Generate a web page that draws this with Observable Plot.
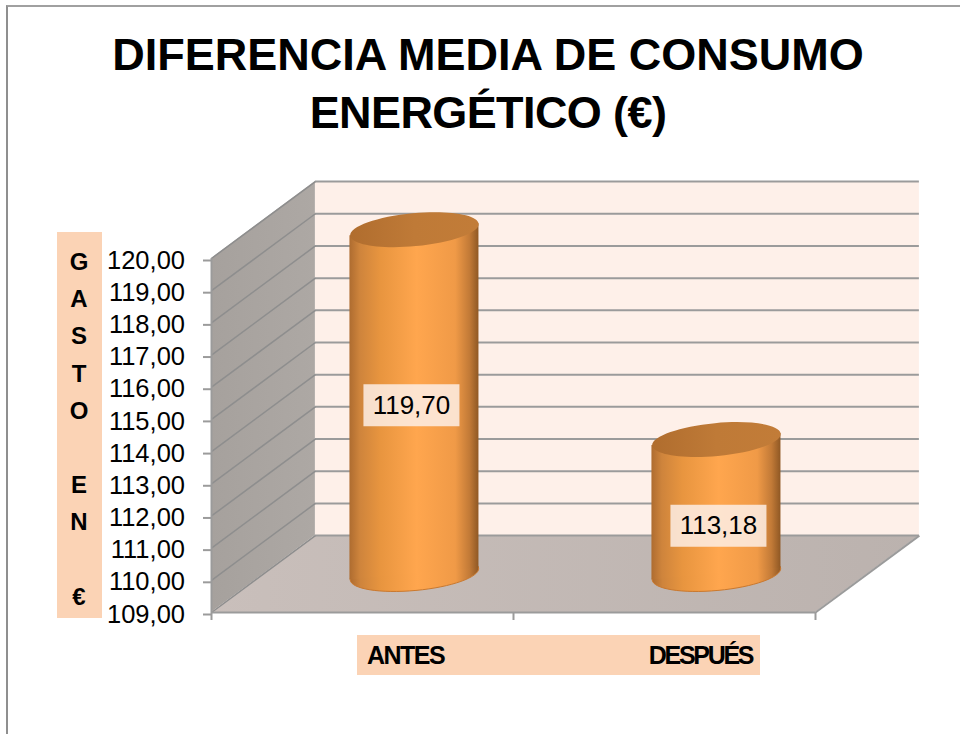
<!DOCTYPE html>
<html><head><meta charset="utf-8">
<script src="https://cdn.jsdelivr.net/npm/d3@7"></script>
<script src="https://cdn.jsdelivr.net/npm/@observablehq/plot@0.6"></script>
<style>
html,body{margin:0;padding:0;background:#fff;}
#root{position:relative;width:960px;height:734px;overflow:hidden;font-family:"Liberation Sans",Arial,sans-serif;}
#frame{position:absolute;left:6px;top:5px;width:960px;height:740px;border-left:2px solid #8f8f8f;border-top:2px solid #a0a0a0;}
#title{position:absolute;left:0;top:26px;width:976px;text-align:center;font-weight:bold;font-size:45px;line-height:58px;color:#000;}
#title span{display:block;}
#title span:last-child{letter-spacing:-0.6px;}
#ytitle{position:absolute;left:57px;top:232px;width:44px;height:386px;background:#FBD3B5;text-align:center;font-weight:bold;font-size:24px;line-height:37.2px;white-space:pre;padding-top:11px;box-sizing:border-box;color:#000;}
#ytitle::after{content:"";position:absolute;left:44px;top:0;width:1px;height:100%;background:#FBD3B5;}
#band{position:absolute;left:357px;top:635px;width:403px;height:40px;background:#FBD3B5;}
#plot{position:absolute;left:0;top:150px;}
</style></head>
<body>
<div id="root">
  <div id="frame"></div>
  <div id="title"></div>
  <div id="ytitle"></div>
  <div id="band"></div>
  <div id="plot"></div>
</div>
<script>
const titleLines = ["DIFERENCIA MEDIA DE CONSUMO", "ENERGÉTICO (€)"];
const yTitle = "G\nA\nS\nT\nO\n\nE\nN\n\n€";
const categories = ["ANTES", "DESPUÉS"];
const values = [119.70, 113.18];
const yTicks = [109,110,111,112,113,114,115,116,117,118,119,120];
const xSlots = [0, 1, 2];

const comma = v => v.toFixed(2).replace(".", ",");
document.getElementById("title").innerHTML = titleLines.map(t => `<span>${t}</span>`).join("");
document.getElementById("ytitle").textContent = yTitle;

// Chart box in data units: two category slots wide, y from 109 to 120.
const yBase = 109, yTop = 120, xEnd = 2;
// Oblique depth of the 3D box expressed in scale units.
const depthX = 0.344, depthY = 2.39;
// Cylinder half width and the tilt of its ellipses in scale units.
const halfW = 0.2136, tilt = 0.187;

const table = categories.map((c, i) => ({
  category: c, value: values[i],
  cx: i + 0.5 + depthX / 2,
  base: yBase + depthY / 2,
  top: values[i] + depthY / 2,
  mid: (values[i] + yBase) / 2 + depthY / 2
}));
const labelNudge = [{dx: -3, dy: 3.5}, {dx: 2, dy: 19}];
const catNudge = [{dx: 43, ls: -1.5}, {dx: 36, ls: -2.3}];

const K = 0.5523;
const ellipseSymbol = {
  draw(ctx, size) {
    const a = Math.sqrt(size / Math.PI), b = a * 0.255, ang = -5.3 * Math.PI / 180;
    const c = Math.cos(ang), s = Math.sin(ang);
    const P = (x, y) => [x * c - y * s, x * s + y * c];
    ctx.moveTo(...P(a, 0));
    ctx.bezierCurveTo(...P(a, K*b), ...P(K*a, b), ...P(0, b));
    ctx.bezierCurveTo(...P(-K*a, b), ...P(-a, K*b), ...P(-a, 0));
    ctx.bezierCurveTo(...P(-a, -K*b), ...P(-K*a, -b), ...P(0, -b));
    ctx.bezierCurveTo(...P(K*a, -b), ...P(a, -K*b), ...P(a, 0));
    ctx.closePath();
  }
};
const boxSymbol = w => ({
  draw(ctx) {
    const hw = w, hh = 21;
    ctx.moveTo(-hw, -hh); ctx.lineTo(hw, -hh); ctx.lineTo(hw, hh); ctx.lineTo(-hw, hh); ctx.closePath();
  }
});

const defs = () => {
  const d = d3.create("svg:defs");
  const grad = (id, stops, x2 = "100%", y2 = "0%") => {
    const g = d.append("linearGradient").attr("id", id).attr("x1", "0%").attr("y1", "0%").attr("x2", x2).attr("y2", y2);
    stops.forEach(([o, c]) => g.append("stop").attr("offset", o).attr("stop-color", c));
  };
  grad("cyl", [["0%", "#AE6C30"], ["8%", "#CE843C"], ["24%", "#E8953F"], ["52%", "#FFA64E"], ["82%", "#F09A47"], ["93%", "#C27A37"], ["100%", "#8F5824"]]);
  grad("cap", [["0%", "#B06D2E"], ["50%", "#BF7A37"], ["100%", "#C27C38"]]);
  grad("floor", [["0%", "#C9BFBB"], ["100%", "#BBB2AE"]]);
  grad("wall", [["0%", "#A6A19D"], ["100%", "#ADA8A4"]]);
  return d.node();
};

const sideWall = [
  {x: 0, y1: yBase, y2: yTop},
  {x: depthX, y1: yBase + depthY, y2: yTop + depthY}
];
const floor = [
  {y: yBase, x1: 0, x2: xEnd},
  {y: yBase + depthY, x1: depthX, x2: xEnd + depthX}
];
const body = table.flatMap(d => [
  {c: d.category, x: d.cx - halfW, y1: d.base - tilt, y2: d.top - tilt},
  {c: d.category, x: d.cx + halfW, y1: d.base + tilt, y2: d.top + tilt}
]);

const gridColor = "#9B9B9B";
const chart = Plot.plot({
  width: 960, height: 584,
  marginLeft: 211, marginRight: 145, marginTop: 108, marginBottom: 122,
  style: {background: "transparent", fontFamily: "'Liberation Sans',Arial,sans-serif", color: "#000", overflow: "visible"},
  x: {domain: [0, xEnd], axis: null},
  y: {domain: [yBase, yTop], axis: null},
  marks: [
    defs,
    // back wall
    Plot.rect([0], {x1: depthX, x2: xEnd + depthX, y1: yBase + depthY, y2: yTop + depthY, fill: "#FEF0E9"}),
    // side wall and floor
    Plot.area(sideWall, {x1: "x", y1: "y1", y2: "y2", fill: "url(#wall)"}),
    Plot.area(floor, {x1: "x1", x2: "x2", y1: "y", fill: "url(#floor)"}),
    // back wall grid
    Plot.ruleY(yTicks.map(t => t + depthY), {x1: depthX, x2: xEnd + depthX, stroke: gridColor, strokeWidth: 2}),
    // side wall grid
    Plot.link(yTicks, {x1: 0, x2: depthX, y1: d => d, y2: d => d + depthY, stroke: "#8E8E8E", strokeWidth: 1.5}),
    // floor right edge and front axis lines
    Plot.link([0], {x1: xEnd, x2: xEnd + depthX, y1: yBase, y2: yBase + depthY, stroke: gridColor, strokeWidth: 2}),
    Plot.ruleX([0], {y1: yBase, y2: yTop, stroke: gridColor, strokeWidth: 2}),
    Plot.ruleY([yBase], {x1: 0, x2: xEnd, stroke: gridColor, strokeWidth: 2}),
    Plot.axisY(yTicks, {anchor: "left", tickSize: 8, tickPadding: 18.5, stroke: gridColor, strokeWidth: 2, fontSize: 25.5, fill: "#000", tickFormat: comma, label: null, dy: 2}),
    Plot.axisX(xSlots, {anchor: "bottom", tickSize: 8, stroke: gridColor, strokeWidth: 2, tickFormat: () => "", label: null}),
    // cylinders
    Plot.dot(table, {x: "cx", y: "base", r: 64.5, symbol: ellipseSymbol, fill: "url(#cyl)", stroke: "#C9782E", strokeWidth: 1}),
    ...categories.map(c => Plot.area(body.filter(b => b.c === c), {x1: "x", y1: "y1", y2: "y2", fill: "url(#cyl)"})),
    Plot.dot(table, {x: "cx", y: "top", r: 64.5, symbol: ellipseSymbol, fill: "url(#cap)"}),
    // value labels
    ...table.map((d, i) => Plot.dot([d], {x: "cx", y: "mid", r: 1, dx: labelNudge[i].dx, dy: labelNudge[i].dy, symbol: boxSymbol(48), fill: "#FDEFE6", fillOpacity: 0.85})),
    ...table.map((d, i) => Plot.text([d], {x: "cx", y: "mid", dx: labelNudge[i].dx, dy: labelNudge[i].dy, text: d => comma(d.value), fontSize: 26, fill: "#000"})),
    // category labels
    ...table.map((d, i) => Plot.text([d], {
      x: i + 0.5, frameAnchor: "bottom", dx: catNudge[i].dx, dy: 51,
      text: "category", fontSize: 25, fontWeight: "bold", fill: "#000",
      render(idx, s, v, dim, ctx, next) { const g = next(idx, s, v, dim, ctx); g.style.letterSpacing = catNudge[i].ls + "px"; return g; }
    }))
  ]
});
document.getElementById("plot").appendChild(chart);
</script>
</body></html>
